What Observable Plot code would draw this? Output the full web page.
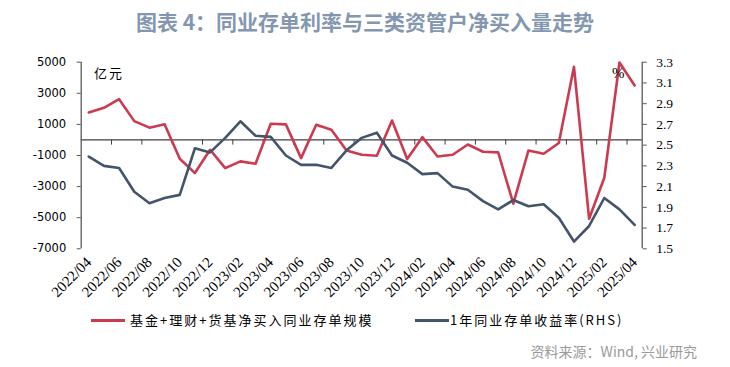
<!DOCTYPE html>
<html><head><meta charset="utf-8">
<script src="https://cdn.jsdelivr.net/npm/d3@7"></script>
<script src="https://cdn.jsdelivr.net/npm/@observablehq/plot@0.6"></script>
<style>
body{margin:0;background:#fff;}
#wrap{position:relative;width:730px;height:367px;overflow:hidden;background:#fff;}
#chart{position:absolute;left:0;top:0;}
.abs{position:absolute;white-space:nowrap;line-height:1;}
#title{left:0;width:730px;top:11px;text-align:center;font-family:"Noto Sans CJK SC";font-weight:bold;font-size:21px;color:#8497b0;}
.unit{font-family:"Noto Sans CJK SC";font-size:13px;letter-spacing:2px;color:#000;}
.leg{font-family:"Noto Sans CJK SC";font-size:13px;letter-spacing:2px;color:#000;}
.sw{position:absolute;height:3px;width:34px;}
#source{right:33px;top:344px;font-family:"Noto Sans CJK SC";font-size:14px;color:#9a9a9a;}
</style></head>
<body>
<div id="wrap">
  <div id="title" class="abs">图表 4：同业存单利率与三类资管户净买入量走势</div>
  <div id="chart"></div>
  <div class="abs unit" style="left:94px;top:66px;">亿元</div>
  <div class="abs" style="left:612px;top:66px;font-family:'Liberation Serif';font-size:15px;">%</div>
  <div class="sw" style="left:91px;top:319px;background:#cc3a4f;"></div>
  <div class="abs leg" style="left:130px;top:313px;">基金+理财+货基净买入同业存单规模</div>
  <div class="sw" style="left:415px;top:319px;background:#44546a;"></div>
  <div class="abs leg" style="left:450px;top:313px;">1年同业存单收益率(RHS)</div>
  <div id="source" class="abs">资料来源：Wind, 兴业研究</div>
</div>
<script>
const months = ["2022/04","2022/05","2022/06","2022/07","2022/08","2022/09","2022/10","2022/11","2022/12",
  "2023/01","2023/02","2023/03","2023/04","2023/05","2023/06","2023/07","2023/08","2023/09","2023/10","2023/11","2023/12",
  "2024/01","2024/02","2024/03","2024/04","2024/05","2024/06","2024/07","2024/08","2024/09","2024/10","2024/11","2024/12",
  "2025/01","2025/02","2025/03","2025/04"];
const fundFlow = [1770,2070,2620,1210,790,1010,-1210,-2130,-630,
  -1810,-1380,-1530,1040,1000,-1170,980,660,-675,-950,-1020,1250,
  -1230,180,-1060,-950,-290,-760,-800,-4100,-675,-890,-200,4700,
  -5070,-2430,4980,3500];
const cdRate = [2.39,2.30,2.28,2.05,1.94,1.99,2.02,2.47,2.43,
  2.57,2.73,2.59,2.58,2.40,2.31,2.31,2.28,2.45,2.57,2.62,2.40,
  2.33,2.22,2.23,2.10,2.07,1.96,1.88,1.97,1.91,1.93,1.80,1.57,
  1.72,1.99,1.88,1.73];
const leftDomain = [-7000, 5000];
const rightDomain = [1.5, 3.3];
const leftTicks = [-7000,-5000,-3000,-1000,1000,3000,5000];
const rightTicks = [1.5,1.7,1.9,2.1,2.3,2.5,2.7,2.9,3.1,3.3];

const k = (leftDomain[1]-leftDomain[0])/(rightDomain[1]-rightDomain[0]);
const toLeft = r => leftDomain[0] + (r - rightDomain[0]) * k;
const fromLeft = v => rightDomain[0] + (v - leftDomain[0]) / k;
const idx = months.map((_, i) => i);
const xDomain = [-0.5, months.length - 0.5];
const labelIdx = idx.filter(i => i % 2 === 0);
const tickBounds = idx.filter(i => i % 2 === 1 && i < months.length - 1).map(i => i + 0.5);

const chart = Plot.plot({
  width: 730, height: 367,
  marginLeft: 80.7, marginRight: 88.3, marginTop: 61.7, marginBottom: 118.7,
  x: {type: "linear", domain: xDomain, axis: null},
  y: {domain: leftDomain, axis: null},
  style: {background: "transparent", overflow: "visible"},
  marks: [
    Plot.ruleY([0], {stroke: "#404040", strokeWidth: 1.2}),
    Plot.ruleX(tickBounds, {x: d => d, y1: 0, y2: -330, stroke: "#404040", strokeWidth: 1}),
    Plot.ruleX([xDomain[0], xDomain[1]], {x: d => d, stroke: "#595959", strokeWidth: 1.3}),
    Plot.axisY(leftTicks, {anchor: "left", tickSize: 4, tickPadding: 11, fontSize: 11.5,
      fontFamily: "DejaVu Sans", fill: "#000", stroke: "#595959", tickFormat: d => String(d)}),
    Plot.axisY(rightTicks.map(toLeft), {anchor: "right", tickSize: 4, tickPadding: 10, fontSize: 13.5,
      fontFamily: "Liberation Serif", fill: "#000", stroke: "#595959", tickFormat: v => fromLeft(v).toFixed(1)}),
    Plot.axisX(labelIdx, {anchor: "bottom", tickSize: 0, tickPadding: 11, tickRotate: -45, fontSize: 15,
      fontFamily: "Liberation Serif", fill: "#000", tickFormat: i => months[i]}),
    Plot.line(idx, {x: i => i, y: i => fundFlow[i], stroke: "#cc3a4f", strokeWidth: 2.6}),
    Plot.line(idx, {x: i => i, y: i => toLeft(cdRate[i]), stroke: "#44546a", strokeWidth: 2.6})
  ]
});
document.getElementById("chart").appendChild(chart);
</script>
</body></html>
